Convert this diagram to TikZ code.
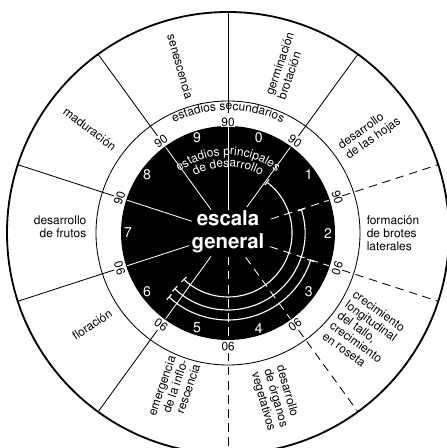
\documentclass[tikz,border=0pt]{standalone}
\usepackage[T1]{fontenc}
\usepackage{helvet}
\renewcommand\familydefault{\sfdefault}
\usetikzlibrary{arrows.meta,decorations.text}
\newcommand\ringfont{\fontsize{8.5}{9.2}\selectfont}

\begin{document}
\begin{tikzpicture}[x=0.25mm,y=0.25mm,line width=.6pt,
  ringtext/.style={inner sep=0pt,font=\ringfont},
  stagenum/.style={inner sep=0pt,text=white,font=\fontsize{10}{12}\selectfont},
  bordernum/.style={inner sep=0.5pt,fill=white,font=\fontsize{8.5}{10}\selectfont},
  dashline/.style={dash pattern=on 6pt off 4pt},
  overlap/.style={white,line width=.8pt,{Bar[width=5pt]}-{Bar[width=5pt]}}]
\path[use as bounding box] (-228,-215) rectangle (219,233);
\clip (-228,-215) rectangle (219,233);
% rings
\draw[line width=1.3pt] (0,0) circle (221);
\draw (0,0) circle (132);
\fill (0,0) circle (107);
% separators in the outer ring
\draw (90:120) -- (90:221);
\draw (126:120) -- (126:221);
\draw (162:120) -- (162:221);
\draw (198:120) -- (198:221);
\draw (234:120) -- (234:221);
\draw[dashline] (270:120) -- (270:221);
\draw[dashline] (306:120) -- (306:221);
\draw[dashline] (342:120) -- (342:221);
\draw[dashline] (18:120) -- (18:221);
\draw (54:120) -- (54:221);
% separators in the black disk
\draw[white] (90:23) -- (90:106);
\draw[white] (126:29) -- (126:106);
\draw[white] (162:38) -- (162:106);
\draw[white] (198:41) -- (198:106);
\draw[white] (234:29) -- (234:106);
\draw[white,dashline] (270:24) -- (270:106);
\draw[white,dashline] (306:30) -- (306:106);
\draw[white,dashline] (342:44) -- (342:106);
\draw[white,dashline] (18:45) -- (18:106);
\draw[white] (54:32) -- (54:106);
% overlapping stages
\draw[overlap] (53:64) arc[start angle=53,end angle=-134,radius=64];
\draw[overlap] (18:77) arc[start angle=18,end angle=-134,radius=77];
\draw[overlap] (-18:87) arc[start angle=-18,end angle=-133,radius=87];
% principal stages
\node[stagenum] (s0) at (72:100) {0};
\node[stagenum] (s1) at (36:100) {1};
\node[stagenum] (s2) at (0:100) {2};
\node[stagenum] (s3) at (-36:100) {3};
\node[stagenum] (s4) at (-72:100) {4};
\node[stagenum] (s5) at (-108:100) {5};
\node[stagenum] (s6) at (-144:100) {6};
\node[stagenum] (s7) at (180:100) {7};
\node[stagenum] (s8) at (144:100) {8};
\node[stagenum] (s9) at (108:100) {9};
% border values
\node[bordernum,rotate=0] (b90) at (90:111) {90};
\node[bordernum,rotate=36] (b126) at (126:114) {90};
\node[bordernum,rotate=72] (b162) at (162:114) {90};
\node[bordernum,rotate=108] (b198) at (198:114) {90};
\node[bordernum,rotate=144] (b234) at (234:114) {90};
\node[bordernum,rotate=180] (b270) at (270:114) {90};
\node[bordernum,rotate=216] (b306) at (306:114) {90};
\node[bordernum,rotate=252] (b342) at (342:115) {90};
\node[bordernum,rotate=-72] (b18) at (18:115) {90};
\node[bordernum,rotate=-36] (b54) at (54:114) {90};
% curved titles
\path[decorate,decoration={text along path,text align=center,
  text={|\fontsize{8.5}{10}\selectfont|estadios secundarios}}]
  (125:123) arc[start angle=125,end angle=55,radius=123];
\path[decorate,decoration={text along path,text align=center,
  text={|\color{white}\fontsize{8.5}{10}\selectfont|estadios principales}}]
  (135:78) arc[start angle=135,end angle=45,radius=78];
\path[decorate,decoration={text along path,text align=center,
  text={|\color{white}\fontsize{8.5}{10}\selectfont|de desarrollo}}]
  (125:66) arc[start angle=125,end angle=55,radius=66];
\node[inner sep=0pt,align=center,text=white,font=\bfseries\fontsize{14.5}{16.3}\selectfont] (escala) at (0,1) {escala\\general};
% outer ring labels
\node[ringtext,rotate=71,align=left] (germ) at (71:177) {germinación\\brotación};
\node[ringtext,rotate=-74] (sene) at (106:173) {senescencia};
\node[ringtext,rotate=-37] (madu) at (143:173) {maduración};
\node[ringtext,align=right] (frut) at (178:168) {desarrollo\\de frutos};
\node[ringtext,rotate=34] (flor) at (214:164) {floración};
\node[ringtext,rotate=71,align=right] (infl) at (251:166) {emergencia\\de la inflo-\\rescencia};
\node[ringtext,rotate=-74,align=left] (vege) at (286:172) {desarrollo\\de órganos\\vegetativos};
\node[ringtext,rotate=-36,align=left] (tall) at (-36:168) {crecimiento\\longitudinal\\del tallo,\\crecimiento\\en roseta};
\node[ringtext,align=left] (brot) at (0:165) {formación\\de brotes\\laterales};
\node[ringtext,rotate=35,align=left] (hoja) at (35:173) {desarrollo\\de las hojas};
\end{tikzpicture}
\end{document}
